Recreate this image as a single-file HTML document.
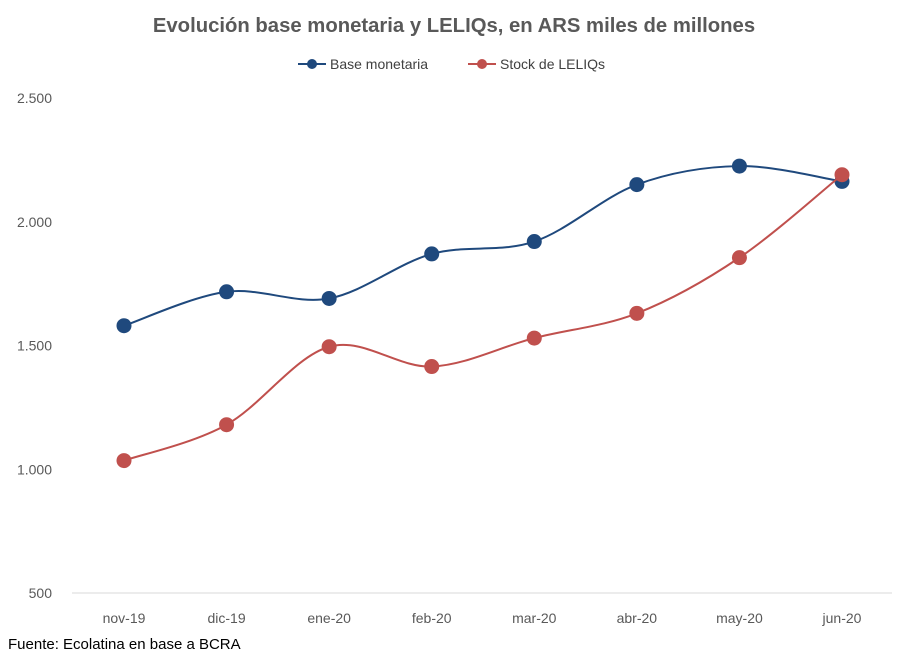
<!DOCTYPE html>
<html><head><meta charset="utf-8"><style>
body{margin:0;background:#fff;font-family:"Liberation Sans",sans-serif}
svg text{font-family:"Liberation Sans",sans-serif}
</style></head><body>
<svg width="908" height="660" xmlns="http://www.w3.org/2000/svg">
<text x="454" y="32" text-anchor="middle" font-size="20.3" font-weight="bold" fill="#595959">Evolución base monetaria y LELIQs, en ARS miles de millones</text>
<g>
<g><line x1="298" y1="64" x2="326" y2="64" stroke="#1f497d" stroke-width="2"/><circle cx="312" cy="64" r="5" fill="#1f497d"/><text x="330" y="69" font-size="14" fill="#404040">Base monetaria</text></g>
<g><line x1="468" y1="64" x2="496" y2="64" stroke="#c0504d" stroke-width="2"/><circle cx="482" cy="64" r="5" fill="#c0504d"/><text x="500" y="69" font-size="14" fill="#404040">Stock de LELIQs</text></g>
</g>
<g id="yaxis"></g>
<g id="xaxis"></g>
<line x1="72" y1="593" x2="892" y2="593" stroke="#d9d9d9" stroke-width="1"/>
<g id="series"></g>
<text x="8" y="649" font-size="15" fill="#000">Fuente: Ecolatina en base a BCRA</text>
</svg>
<script>
const categories=["nov-19","dic-19","ene-20","feb-20","mar-20","abr-20","may-20","jun-20"];
const baseMonetaria=[1580,1717,1690,1870,1920,2150,2225,2163];
const leliqs=[1035,1180,1495,1415,1530,1630,1855,2190];
const yTicks=[500,1000,1500,2000,2500];
const yTickLabels=["500","1.000","1.500","2.000","2.500"];
const NS="http://www.w3.org/2000/svg";
const x=i=>124+i*(842-124)/(categories.length-1);
const y=v=>593-(v-500)*(593-98)/2000;
function mk(t,a,p){const e=document.createElementNS(NS,t);for(const k in a)e.setAttribute(k,a[k]);p.appendChild(e);return e;}
const ya=document.getElementById('yaxis');
yTicks.forEach((v,i)=>{const t=mk('text',{x:52,y:y(v)+5,'text-anchor':'end','font-size':14,fill:'#595959'},ya);t.textContent=yTickLabels[i];

});
const xa=document.getElementById('xaxis');
categories.forEach((c,i)=>{const t=mk('text',{x:x(i),y:623,'text-anchor':'middle','font-size':14,fill:'#595959'},xa);t.textContent=c;

});
const sg=document.getElementById('series');
function draw(vals,color,name){
const pts=vals.map((v,i)=>[x(i),y(v)]);
let d=`M${pts[0][0]},${pts[0][1]}`;
for(let i=0;i<pts.length-1;i++){const p0=pts[Math.max(i-1,0)],p1=pts[i],p2=pts[i+1],p3=pts[Math.min(i+2,pts.length-1)];const k=6;
d+=` C${p1[0]+(p2[0]-p0[0])/k},${p1[1]+(p2[1]-p0[1])/k} ${p2[0]-(p3[0]-p1[0])/k},${p2[1]-(p3[1]-p1[1])/k} ${p2[0]},${p2[1]}`;}
const l=mk('path',{d:d,fill:'none',stroke:color,'stroke-width':2},sg);


pts.forEach(p=>{const c=mk('circle',{cx:p[0],cy:p[1],r:7.5,fill:color},sg);

});
}
draw(baseMonetaria,'#1f497d','base-monetaria');
draw(leliqs,'#c0504d','leliqs');
</script>
</body></html>
